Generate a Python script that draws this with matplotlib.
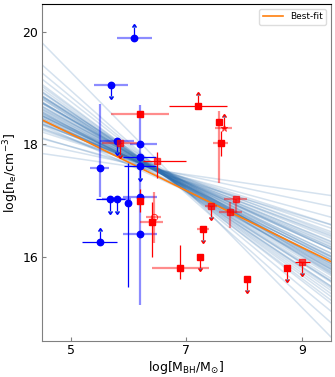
import numpy as np
import matplotlib
matplotlib.use('Agg')
import matplotlib.pyplot as plt

# posterior draws of the relation: slope and value at logM = 7.3
FAN_X0 = 7.3
fan_slope = [-0.52, -0.61, -0.44, -0.70, -0.38, -0.55, -0.49, -0.66, -0.58, -0.31,
             -0.47, -0.73, -0.53, -0.42, -0.60, -0.85, -0.50, -0.35, -0.64, -0.57,
             -0.45, -0.68, -0.40, -0.54, -0.62, -0.28, -0.51, -0.77, -0.48, -0.59,
             -0.43, -0.56, -0.92, -0.37, -0.63, -0.46, -0.71, -0.50, -0.22, -0.58,
             -0.65, -0.41, -0.53, -0.80, -0.47, -0.60, -0.33, -0.55, -0.69, -0.44,
             -0.57, -0.15, -0.62, -0.49, -0.75, -0.39, -0.52, -0.66, -0.46, -1.05]
fan_pivot = [17.10, 17.05, 17.18, 16.98, 17.22, 17.08, 17.14, 17.00, 17.12, 17.25,
             17.03, 16.95, 17.16, 17.20, 17.06, 16.90, 17.11, 17.28, 17.02, 17.09,
             17.17, 16.97, 17.24, 17.07, 17.13, 17.32, 17.04, 16.92, 17.19, 17.10,
             17.21, 17.01, 16.85, 17.26, 17.08, 17.15, 16.96, 17.12, 17.38, 17.06,
             17.00, 17.23, 17.11, 16.93, 17.17, 17.05, 17.30, 17.09, 16.99, 17.20,
             17.07, 17.42, 17.03, 17.14, 16.94, 17.27, 17.10, 17.02, 17.18, 16.88]

# best-fit line
fit_slope = -0.506
fit_icpt = 20.72

# blue sample (circles)
bx    = [6.10, 5.70, 5.50, 5.80, 6.20, 6.20, 6.20, 5.69, 5.80, 6.00, 6.20, 6.20, 5.50]
by    = [19.90, 19.06, 17.58, 18.07, 18.00, 17.78, 17.61, 17.02, 17.02, 16.95, 17.06, 16.41, 16.26]
bx_lo = [0.30, 0.30, 0.17, 0.30, 0.17, 0.30, 0.27, 0.25, 0.25, 0.00, 0.30, 0.30, 0.30]
bx_hi = [0.30, 0.30, 0.17, 0.30, 0.30, 0.28, 0.27, 0.25, 0.25, 0.00, 0.30, 0.30, 0.30]
by_lo = [0, 0, 0.51, 0, 0, 0, 0, 0, 0, 1.49, 0, 1.27, 0]
by_hi = [0, 0, 1.14, 0, 0, 0, 0, 0, 0, 0.72, 0, 2.30, 0]
b_xpale = [1, 1, 1, 1, 1, 0, 0, 0, 1, 0, 1, 1, 0]
b_ypale = [0, 0, 1, 0, 0, 0, 0, 0, 0, 0, 0, 1, 0]
b_lim = ['lo', 'up', '', 'up', '', '', 'up', 'up', 'up', '', '', '', 'lo']

# red sample (squares)
rx    = [6.20, 5.85, 6.50, 6.20, 6.40, 6.90, 7.20, 7.57, 7.60, 7.23, 7.29, 8.06, 7.43, 7.76, 7.86, 8.74, 9.01]
ry    = [18.55, 18.02, 17.71, 17.00, 16.61, 15.80, 18.69, 18.40, 18.02, 16.00, 16.49, 15.60, 16.90, 16.80, 17.02, 15.80, 15.90]
rx_lo = [0.50, 0.30, 0.25, 0, 0.20, 0.50, 0.50, 0, 0.13, 0, 0.10, 0, 0.10, 0.20, 0.20, 0, 0.13]
rx_hi = [0.50, 0.30, 0.50, 0, 0.20, 0.50, 0.50, 0, 0.13, 0, 0.10, 0, 0.10, 0.20, 0.20, 0, 0.13]
ry_lo = [0, 0, 0.31, 0.20, 0.61, 0.20, 0, 1.09, 0.22, 0, 0, 0, 0, 0.29, 0.24, 0, 0]
ry_hi = [0, 0, 0.16, 0.20, 0.37, 0.41, 0, 0.19, 0.22, 0, 0, 0, 0, 0.18, 0, 0, 0]
r_xpale = [1, 1, 0, 0, 1, 1, 0, 0, 1, 0, 1, 0, 1, 1, 1, 0, 0]
r_ypale = [0, 0, 0, 0, 0, 0, 0, 1, 0, 0, 0, 0, 0, 1, 1, 0, 0]
r_lim = ['', 'up', '', '', '', '', 'lo', '', '', 'up', 'up', 'up', 'up', '', '', 'up', 'up']
r_faded = [0, 1, 1, 0, 0, 0, 0, 0, 0, 0, 0, 0, 1, 1, 1, 0, 1]

# red open symbols
ox = [6.44, 7.65]
oy = [16.70, 18.29]
o_mark = ['o', '*']
o_xerr = [0.13, 0.15]
o_yerr = [0.45, 0.0]
o_lim = ['', 'lo']

ARROW = 0.2


def draw_bars(ax, x, y, xlo, xhi, ylo, yhi, xpale, ypale, lim, color):
    x, y = np.asarray(x), np.asarray(y)
    xlo, xhi, ylo, yhi = map(np.asarray, (xlo, xhi, ylo, yhi))
    xpale, ypale, lim = np.asarray(xpale), np.asarray(ypale), np.asarray(lim)
    for pale, alpha, lw in [(1, 0.45, 1.6), (0, 1.0, 0.9)]:
        m = (xpale == pale) & (xlo + xhi > 0)
        if m.any():
            ax.errorbar(x[m], y[m], xerr=[xlo[m], xhi[m]], fmt='none', ecolor=color,
                        alpha=alpha, elinewidth=lw, capsize=0, zorder=3)
        m = (ypale == pale) & (ylo + yhi > 0)
        if m.any():
            ax.errorbar(x[m], y[m], yerr=[ylo[m], yhi[m]], fmt='none', ecolor=color,
                        alpha=alpha, elinewidth=lw, capsize=0, zorder=3)
    m = lim == 'up'
    if m.any():
        ax.errorbar(x[m], y[m], yerr=ARROW, uplims=True, fmt='none', ecolor=color,
                    elinewidth=0.9, capsize=1.6, zorder=3)
    m = lim == 'lo'
    if m.any():
        ax.errorbar(x[m], y[m], yerr=ARROW, lolims=True, fmt='none', ecolor=color,
                    elinewidth=0.9, capsize=1.6, zorder=3)


fig = plt.figure(figsize=(3.35, 3.77), dpi=100)
ax = fig.add_axes([0.1245, 0.0963, 0.8627, 0.8923])

xx = np.array([4.5, 9.5])
for s, p in zip(fan_slope, fan_pivot):
    ax.plot(xx, p + s * (xx - FAN_X0), color='#2f6fae', alpha=0.2, lw=1.1, zorder=1)
ax.plot(xx, fit_icpt + fit_slope * xx, color='#ff7f0e', lw=1.2, zorder=2.5, label='Best-fit')

draw_bars(ax, bx, by, bx_lo, bx_hi, by_lo, by_hi, b_xpale, b_ypale, b_lim, 'blue')
draw_bars(ax, rx, ry, rx_lo, rx_hi, ry_lo, ry_hi, r_xpale, r_ypale, r_lim, 'red')
draw_bars(ax, ox, oy, o_xerr, o_xerr, o_yerr, o_yerr, [1, 1], [1, 1], o_lim, 'red')

ax.plot(bx, by, 'o', color='blue', ms=4.6, ls='none', zorder=4)
rf = np.array(r_faded) == 1
rx_a, ry_a = np.array(rx), np.array(ry)
ax.plot(rx_a[~rf], ry_a[~rf], 's', color='red', ms=4.3, ls='none', zorder=4)
ax.plot(rx_a[rf], ry_a[rf], 's', color='red', alpha=0.7, ms=4.3, ls='none', zorder=4)
for xo, yo, mk in zip(ox, oy, o_mark):
    ax.plot(xo, yo, mk, mfc='none', mec='red', ms=4.5, mew=0.7, alpha=0.8, zorder=4)

ax.set_xlim(4.5, 9.5)
ax.set_ylim(14.5, 20.5)
ax.set_xticks([5, 7, 9])
ax.set_yticks([16, 18, 20])
ax.tick_params(direction='in', length=3, width=0.8, color='gray', labelsize=9, pad=2.5)
for side in ['left', 'bottom', 'right']:
    ax.spines[side].set_color('gray')
ax.spines['top'].set_color('black')
ax.set_xlabel(r'log[M$_{\rm BH}$/M$_{\odot}$]', fontsize=9, labelpad=1)
ax.set_ylabel(r'log[n$_{\rm e}$/cm$^{-3}$]', fontsize=9, labelpad=1)
ax.legend(loc='upper right', fontsize=6.5, handlelength=2.2, framealpha=1, edgecolor='#dddddd')

plt.savefig('out.png', dpi=100)
